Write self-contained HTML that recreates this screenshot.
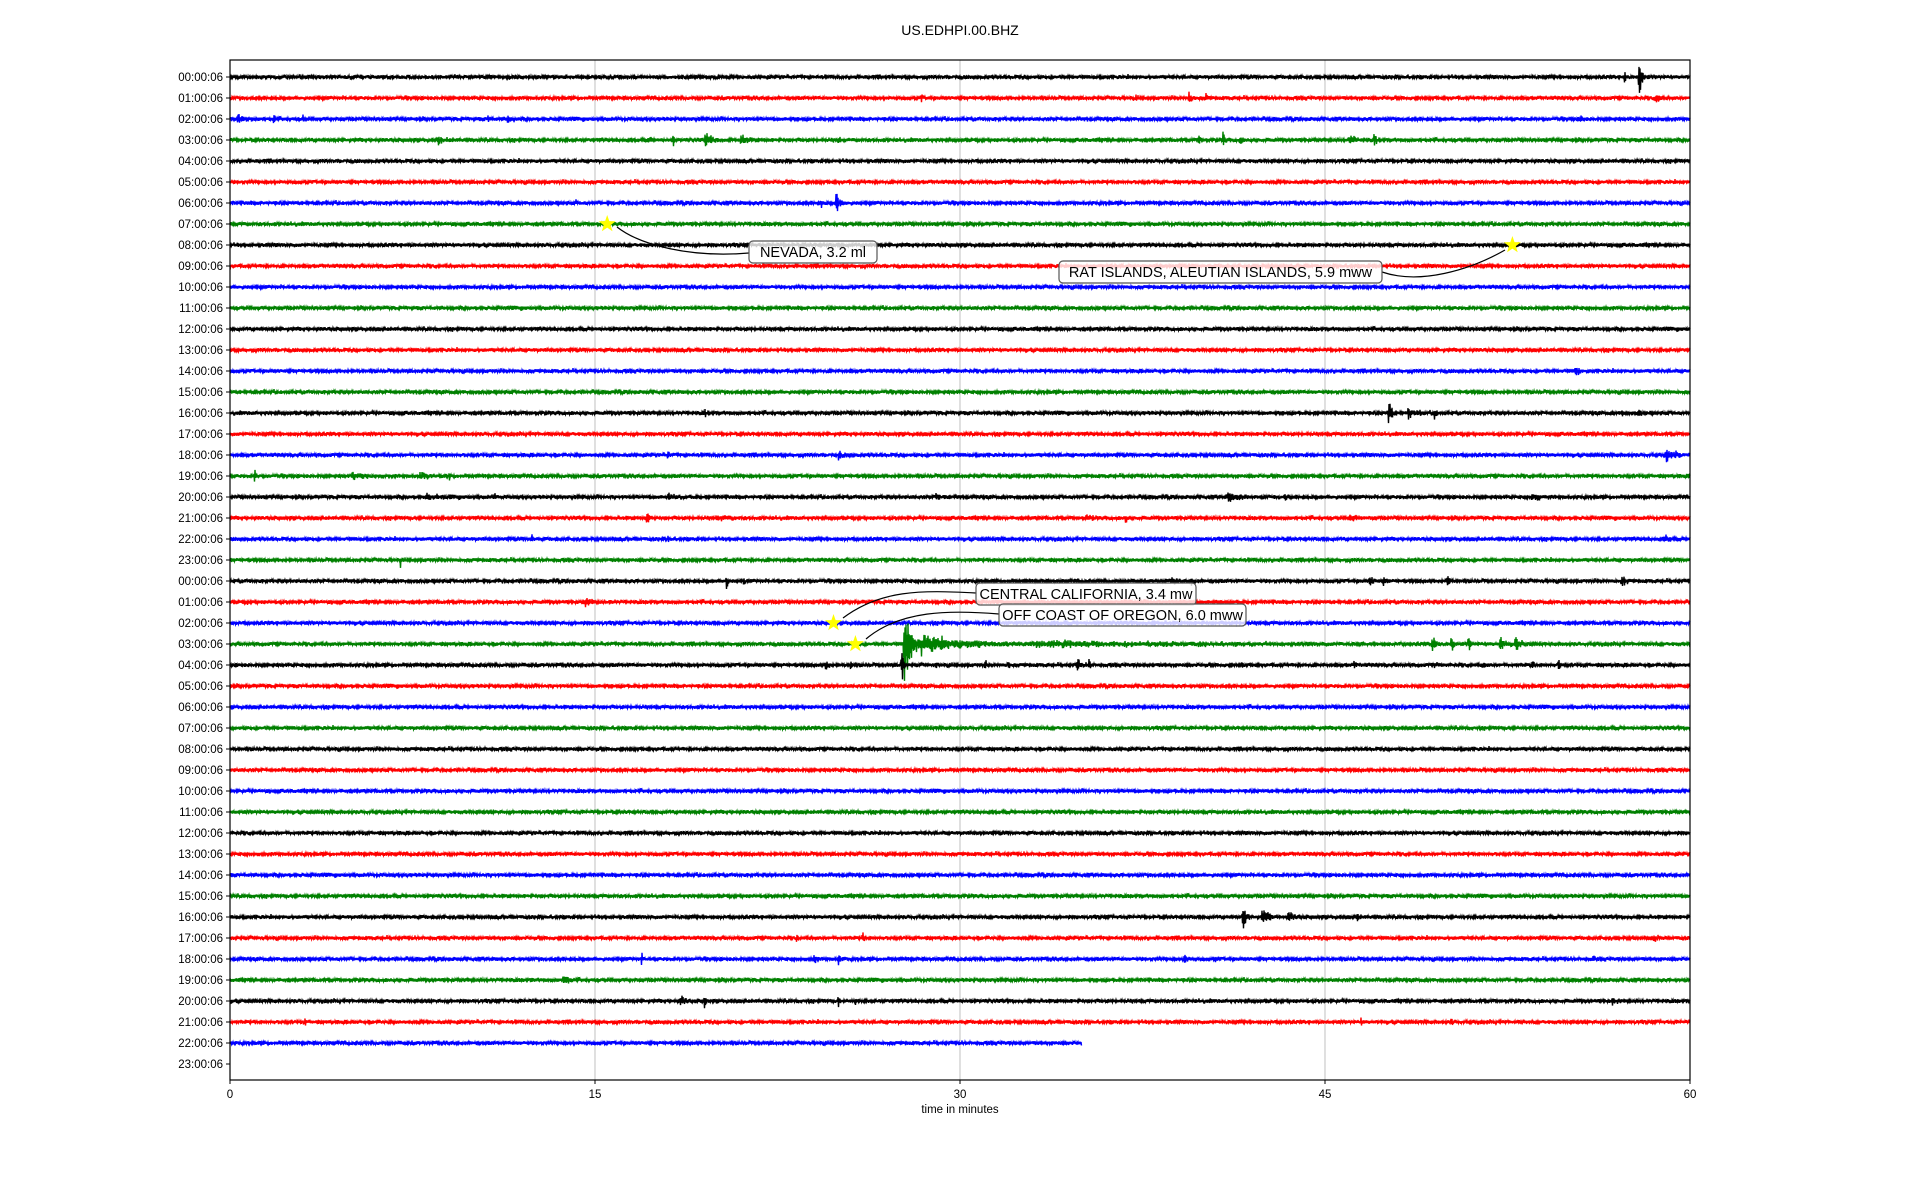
<!DOCTYPE html>
<html><head><meta charset="utf-8">
<style>
html,body{margin:0;padding:0;background:#fff;}
svg{display:block;font-family:"Liberation Sans","DejaVu Sans",sans-serif;}
</style></head>
<body>
<svg id="s" width="1920" height="1200" xmlns="http://www.w3.org/2000/svg">
<rect width="1920" height="1200" fill="#fff"/>
<text x="960" y="35" text-anchor="middle" font-size="14">US.EDHPI.00.BHZ</text>
<g id="grid"></g>
<g id="traces"></g>
<rect x="230" y="60" width="1460" height="1020" fill="none" stroke="#000" stroke-width="1.2"/>
<g id="ticks" font-size="11.5"></g>
<text x="960" y="1113" text-anchor="middle" font-size="11.5">time in minutes</text>
<g id="ann"></g>
</svg>
<script>
(function(){
var NS="http://www.w3.org/2000/svg";
function el(t,a,p){var e=document.createElementNS(NS,t);for(var k in a)e.setAttribute(k,a[k]);p.appendChild(e);return e;}
var L=230,R=1690,T=60,B=1080,W=R-L;
function X(m){return L+m/60*W;}
function Y(i){return 77+21*i;}
var grid=document.getElementById('grid'),tr=document.getElementById('traces'),tk=document.getElementById('ticks'),ann=document.getElementById('ann');
[15,30,45].forEach(function(m){el('line',{x1:X(m),x2:X(m),y1:T,y2:B,stroke:'#b0b0b0','stroke-width':0.8},grid);});
[0,15,30,45,60].forEach(function(m){el('line',{x1:X(m),x2:X(m),y1:B,y2:B+4,stroke:'#000'},tk);var t=el('text',{x:X(m),y:B+18,'text-anchor':'middle'},tk);t.textContent=m;});
for(var i=0;i<48;i++){var h=i%24;var lab=(h<10?'0':'')+h+':00:06';
 el('line',{x1:L-4,x2:L,y1:Y(i),y2:Y(i),stroke:'#000'},tk);
 var t=el('text',{x:L-7,y:Y(i)+4,'text-anchor':'end'},tk);t.textContent=lab;}
var seed=12345;function rnd(){seed=(seed*1103515245+12345)%2147483648;return seed/2147483648;}
function g(){return (rnd()+rnd()+rnd()-1.5);}
var cols=['#000','#f00','#00f','#008000'];
var ev=[[0,57.9,30,0.08],[0,57.3,8,0.05],[1,58.6,7,0.1],[1,39.4,6,0.1],[1,40.1,5,0.05],[1,28.4,4,0.05],[1,37.2,3,0.05],[2,0.3,5,0.2],[2,1.8,12,0.03],[2,3,5,0.03],[2,10.6,5,0.05],[2,11.4,5,0.1],[2,55.5,4,0.05],
[3,18.2,9,0.05],[3,19.5,6,0.3],[3,8.5,4,0.2],[3,17.2,7,0.05],[3,39.8,8,0.05],[3,40.8,9,0.05],[3,41.5,7,0.05],[3,46,5,0.2],[3,47,8,0.1],[3,21,4,0.2],[3,25,3,0.1],
[6,24.9,16,0.1],[6,24.3,6,0.05],[6,14.2,4,0.05],[14,55.3,7,0.1],[16,47.6,16,0.1],[16,48.4,7,0.2],[16,49.5,6,0.05],[16,57.9,7,0.05],[16,57.2,5,0.05],[16,19.5,4,0.1],
[18,59,6,0.3],[18,18,5,0.05],[18,25,3,0.2],[19,1,6,0.05],[19,5,3,0.5],[19,7.8,4,0.3],[19,9,6,0.03],[20,8,3,0.4],[20,10.8,4,0.1],[20,18,3,0.3],[20,29,3,0.3],[20,41,4,0.4],[20,43.3,5,0.1],[20,53.5,3,0.3],
[21,17.1,6,0.1],[21,20,3,0.3],[21,35.2,6,0.1],[21,36.8,5,0.05],[21,46,3,0.3],[22,12.4,6,0.03],[22,18,5,0.05],[22,59,4,0.1],[23,7,5,0.03],
[24,20.4,12,0.03],[24,21.1,5,0.05],[24,38.7,7,0.05],[24,39.5,8,0.05],[24,46.8,7,0.1],[24,47.4,8,0.05],[24,50,7,0.1],[24,57.2,7,0.1],
[25,14.5,5,0.2],[25,15.6,5,0.05],[25,0.7,4,0.05],
[27,27.7,48,0.25],[27,28.4,8,1.5],[27,33,2,5],[27,49.4,12,0.1],[27,50.2,16,0.05],[27,50.9,9,0.05],[27,52.2,11,0.1],[27,52.8,6,0.2],
[28,24.5,7,0.05],[28,25.5,8,0.03],[28,27.6,25,0.05],[28,29,6,0.05],[28,31,6,0.05],[28,32,6,0.03],[28,34.8,9,0.1],[28,35.3,11,0.03],[28,37.9,6,0.03],[28,41.6,7,0.03],[28,46.2,6,0.05],[28,49.5,6,0.05],[28,51.5,6,0.05],[28,53.5,6,0.05],[28,54.6,7,0.05],
[40,41.6,22,0.1],[40,42.4,8,0.2],[40,43.5,6,0.15],[40,46.3,5,0.05],[41,23.3,5,0.05],[41,26,5,0.05],[41,58.5,5,0.1],
[42,16.9,9,0.03],[42,24,6,0.05],[42,25,6,0.1],[42,39.2,5,0.1],[42,40.5,5,0.05],[42,56,5,0.05],
[43,13.7,7,0.15],[43,12.4,5,0.03],[44,18.5,6,0.15],[44,19.5,6,0.05],[44,25,6,0.05],[44,25.7,6,0.03],[44,56.8,6,0.1],
[45,3.1,7,0.03],[45,46.5,7,0.03],[45,50.2,6,0.03],[45,53.2,5,0.03]];
var byRow={};ev.forEach(function(e){(byRow[e[0]]=byRow[e[0]]||[]).push(e);});
for(var i=0;i<47;i++){
 var y0=Y(i),end=(i===46)?X(35):R;var d=[];var list=byRow[i]||[];var s=1;
 for(var x=L;x<=end;x+=0.5){
  var m=(x-L)/W*60,amp=1;
  for(var k=0;k<list.length;k++){var e=list[k];var dt=m-e[1];
   if(dt>-0.03&&dt<e[3]*6){amp+=e[2]/2*Math.exp(-Math.max(dt,0)/e[3])*(dt<0?0.3:1);}}
  s=-s;var v=s*(0.6+Math.abs(g())*1.6)*amp*0.9+g()*0.5;if(v>50)v=50;if(v<-50)v=-50;
  d.push((d.length?'L':'M')+x.toFixed(1)+' '+(y0+v).toFixed(1));
 }
 el('path',{d:d.join(''),fill:'none',stroke:cols[i%4],'stroke-width':1.4},tr);
}
function star(cx,cy){var p=[];for(var k=0;k<10;k++){var r=k%2?3.6:9,a=-Math.PI/2+k*Math.PI/5;p.push((cx+r*Math.cos(a)).toFixed(1)+','+(cy+r*Math.sin(a)).toFixed(1));}
 el('polygon',{points:p.join(' '),fill:'#ff0'},ann);}
function label(sx,sy,bx,by,bw,txt,ex,ey,c1,c2){
 el('path',{d:'M'+sx+' '+sy+' C'+c1+' '+c2+' '+ex+' '+ey,fill:'none',stroke:'#000','stroke-width':1.2},ann);
 el('rect',{x:bx,y:by,width:bw,height:22,rx:4,fill:'rgba(255,255,255,0.8)',stroke:'#555','stroke-width':1.2},ann);
 var t=el('text',{x:bx+bw/2,y:by+16,'text-anchor':'middle','font-size':14.5},ann);t.textContent=txt;}
label(617,227,749,241,128,'NEVADA, 3.2 ml',749,253,'640,245','690,258');
star(X(15.5),Y(7));
label(1505,250,1059,261,323,'RAT ISLANDS, ALEUTIAN ISLANDS, 5.9 mww',1382,272,'1470,270','1420,285');
star(X(52.7),Y(8));
label(843,618,976,583,220,'CENTRAL CALIFORNIA, 3.4 mw',976,593,'880,590','920,590');
star(X(24.8),Y(26));
label(866,639,999,604,247,'OFF COAST OF OREGON, 6.0 mww',999,614,'900,610','950,610');
star(X(25.7),Y(27));
})();
</script>
</body></html>
